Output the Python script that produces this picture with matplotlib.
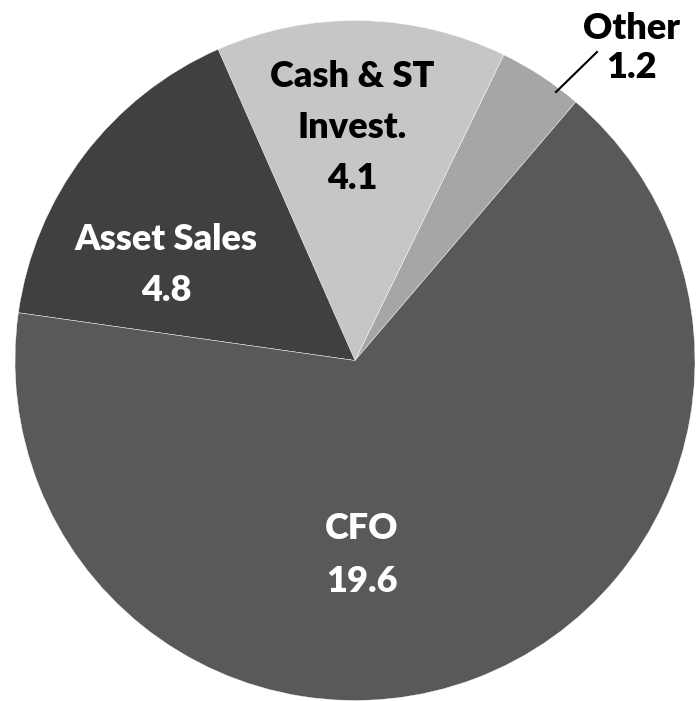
import matplotlib
matplotlib.use('Agg')
from matplotlib import pyplot as plt

# pie data, counterclockwise from the top right
names = ['Other', 'Cash & ST\nInvest.', 'Asset Sales', 'CFO']
values = [1.2, 4.1, 4.8, 19.6]
value_labels = ['1.2', '4.1', '4.8', '19.6']
colors = ['#A6A6A6', '#C6C6C6', '#404040', '#595959']
text_colors = ['black', 'black', 'white', 'white']

# layout in pixels: centre x and first baseline of each label, line step
label_x = [631, 352, 166, 362]
label_y0 = [39, 87, 250, 539]
label_step = [39, 51, 51, 53]

W, H = 696, 701
cx, cy, R = 355.0, 360.5, 340.0

def px(x, y):
    # pixel (from top left) to data coords, radius 1 = R pixels
    return (x - cx) / R, (cy - y) / R

plt.rcParams['font.family'] = ['Lato', 'DejaVu Sans']
fig = plt.figure(figsize=(W / 100.0, H / 100.0), dpi=100)
ax = fig.add_axes([0, 0, 1, 1])
ax.pie(values, colors=colors, startangle=49.5, counterclock=True,
       radius=1.0, center=(0, 0),
       wedgeprops=dict(edgecolor='white', linewidth=0.3))
x0, y1 = px(0, 0)
x1, y0 = px(W, H)
ax.set_xlim(x0, x1)
ax.set_ylim(y0, y1)
ax.set_aspect('auto')
ax.axis('off')

for i in range(len(names)):
    lines = names[i].split('\n') + [value_labels[i]]
    for j, line in enumerate(lines):
        tx, ty = px(label_x[i], label_y0[i] + j * label_step[i])
        ax.text(tx, ty, line, ha='center', va='baseline', fontsize=26,
                fontweight='heavy', color=text_colors[i])

# leader line for the small slice
lx0, ly0 = px(556, 92)
lx1, ly1 = px(597, 52)
ax.plot([lx0, lx1], [ly0, ly1], color='black', linewidth=1.5)

fig.savefig('out.png', dpi=100)
